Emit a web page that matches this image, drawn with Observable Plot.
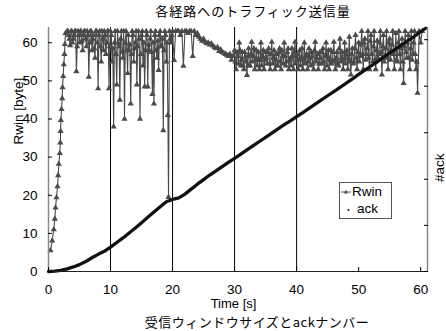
<!DOCTYPE html>
<html><head><meta charset="utf-8">
<script src="https://cdn.jsdelivr.net/npm/d3@7"></script>
<script src="https://cdn.jsdelivr.net/npm/@observablehq/plot@0.6"></script>
<style>
body{margin:0;background:#fff;}
#wrap{position:relative;width:446px;height:331px;overflow:hidden;font-family:"Liberation Sans",Arial,sans-serif;color:#000;}
#title{height:22px;line-height:22px;padding-left:60px;text-align:center;font-family:"Noto Sans CJK JP",sans-serif;font-size:13px;letter-spacing:1px;}
#caption{height:17px;line-height:16px;padding-left:68px;text-align:center;font-family:"Noto Sans CJK JP",sans-serif;font-size:13px;letter-spacing:0.5px;}
#legend{position:absolute;left:339px;top:182px;width:51px;height:35px;border:1px solid #555;background:#fff;font-size:13.5px;}
#legend .row{position:absolute;left:0;height:16px;line-height:16px;}
#legend svg{position:absolute;left:0;top:0;}
#plot svg{display:block;}
</style></head>
<body>
<div id="wrap">
  <div id="title">各経路へのトラフィック送信量</div>
  <div id="plot"></div>
  <div id="caption">受信ウィンドウサイズとackナンバー</div>
  <div id="legend">
    <div class="row" style="top:1px;width:51px;">
      <svg width="14" height="16"><line x1="1" y1="8" x2="11" y2="8" stroke="#555" stroke-width="1"/><path d="M6,5.5L8.2,9.5L3.8,9.5Z" fill="#555"/></svg>
      <span style="position:absolute;left:12px;">Rwin</span>
    </div>
    <div class="row" style="top:18px;width:51px;">
      <svg width="14" height="16"><circle cx="8.5" cy="9" r="1" fill="#111"/></svg>
      <span style="position:absolute;left:17px;">ack</span>
    </div>
  </div>
</div>
<script>
// Data
const rwinTime = [0.32,0.6,0.85,1.02,1.13,1.29,1.45,1.56,1.66,1.82,1.9,1.95,2.0,2.1,2.21,2.26,2.37,2.47,2.58,2.63,2.74,
  3.0,3.25,3.5,3.75,4.0,4.25,4.5,4.75,5.0,5.25,5.5,5.75,6.0,6.25,6.5,6.75,7.0,7.25,7.5,7.75,8.0,8.25,8.5,8.75,9.0,9.25,9.5,9.75,
  10.0,10.25,10.5,10.75,11.0,11.25,11.5,11.75,12.0,12.25,12.5,12.75,13.0,13.25,13.5,13.75,14.0,14.25,14.5,14.75,15.0,15.25,15.5,15.75,
  16.0,16.25,16.5,16.75,17.0,17.25,17.5,17.75,18.0,18.25,18.5,18.75,19.0,19.25,19.35,19.5,19.75,20.0,20.25,20.5,20.75,21.0,21.25,21.5,21.75,
  22.0,22.25,22.5,22.75,23.0,23.25,23.5,23.75,24.0,24.25,24.5,24.75,25.0,25.25,25.5,25.75,26.0,26.25,26.5,26.75,27.0,27.25,27.5,27.75,
  28.0,28.25,28.5,28.75,29.0,29.25,29.5,29.75,30.0,30.25,30.5,30.75,31.0,31.25,31.5,31.75,32.0,32.25,32.5,32.75,33.0,33.25,33.5,33.75,
  34.0,34.25,34.5,34.75,35.0,35.25,35.5,35.75,36.0,36.25,36.5,36.75,37.0,37.25,37.5,37.75,38.0,38.25,38.5,38.75,39.0,39.25,39.5,39.75,
  40.0,40.25,40.5,40.75,41.0,41.25,41.5,41.75,42.0,42.25,42.5,42.75,43.0,43.25,43.5,43.75,44.0,44.25,44.5,44.75,45.0,45.25,45.5,45.75,
  46.0,46.25,46.5,46.75,47.0,47.25,47.5,47.75,48.0,48.25,48.5,48.75,49.0,49.25,49.5,49.75,50.0,50.25,50.5,50.75,51.0,51.25,51.5,51.75,
  52.0,52.25,52.5,52.75,53.0,53.25,53.5,53.75,54.0,54.25,54.5,54.75,55.0,55.25,55.5,55.75,56.0,56.25,56.5,56.75,57.0,57.25,57.5,57.75,
  58.0,58.25,58.5,58.75,59.0,59.25,59.5,59.75,60.0,60.25];
const rwinValue = [5.5,8.1,11,13.8,16.7,19.4,22.3,25.2,28.2,31,33.8,36.8,39.7,42.6,45.4,48.3,51.2,54.3,57,59.6,62.5,
  63,62,59.3,63,61,63,52.5,63,60,63,58,63,61,63,51,63,58,62,56,63,48,63,55,61,63,57,63,48,
  63,55,38,63,49,60,45,63,56,40,63,52,58,44,63,55,60,49,63,40,62,54,48.5,63,
  48.5,58,63,46.5,44,63,56,52.8,63,59,37,63,55,41,19.5,63,60,63,55.4,63,63,63,62,63,53.9,
  63,63,62.5,63,63,56.5,63,62,62.5,61.5,61,60.5,61,60.2,59.8,60,59.5,59.8,59.2,58.8,58.5,58.8,57.8,58.2,
  57.5,57.3,57,56.8,56.5,57,55.5,56.5,58,53,56.5,60,54,57.5,53,56.3,51.5,58.5,54,60.2,56.5,53,58,55.5,
  53,60,56.5,53,57.5,54.5,58.5,53,60.2,56,53,57,54,58.5,53,56.5,60,54,57.5,53,56,58.5,53,60.2,
  55.5,53,58,56,53,60,56.5,53,58.5,54,56.5,53,60.2,56,53,57.5,54.5,58.5,53,60,56.5,53,58,55,
  60.2,53,57.5,54,61,56,53,60,57,53,61.5,51.6,58.5,55,62,53,60,56.5,63,53,61,57,63,53,
  62,55,63,53,60.5,57,63,51.6,62,56,63,53,61,58,63,53,62.5,55,63,53,61,49.4,63,56,
  62,53,63,57,63,53,46.8,63,60,63];
// Intermediate Rwin samples (time, value) that fill the dense bands
const rwinExtra = [
  [3.125,63],[3.375,61],[3.625,63],[3.875,60],[4.125,62],[4.375,63],[4.625,59],[4.875,62],[5.125,63],[5.375,60.5],
  [5.625,62],[5.875,63],[6.125,59],[6.375,62],[6.625,60],[6.875,63],[7.125,61],[7.375,58.5],[7.625,63],[7.875,60],
  [8.125,62],[8.375,59],[8.625,63],[8.875,58],[9.125,62],[9.375,60],[9.625,63],[9.875,59],[10.125,62],[10.375,58.5],
  [10.625,60],[10.875,57],[11.125,63],[11.375,59],[11.625,61],[11.875,57.5],[12.125,63],[12.375,60],[12.625,58],[12.875,62],
  [13.125,59.5],[13.375,57],[13.625,62],[13.875,58.5],[14.125,63],[14.375,59],[14.625,61],[14.875,57],[15.125,63],[15.375,60],
  [15.625,58],[15.875,62],[16.125,59.5],[16.375,61],[16.625,57.5],[16.875,60],[17.125,62],[17.375,58],[17.625,60.5],[17.875,62],
  [18.125,59],[18.375,61],[18.625,58],[18.875,62],[19.125,60],[19.625,61],[19.875,62],
  [30.125,55],[30.375,57.5],[30.625,54.5],[30.875,58],[31.125,55.5],[31.375,54],[31.625,57.5],[31.875,55],[32.125,56.5],[32.375,54],
  [32.625,57],[32.875,55],[33.125,58.5],[33.375,55.5],[33.625,54],[33.875,57.5],[34.125,55.5],[34.375,54],[34.625,58],[34.875,55.5],
  [35.125,56],[35.375,57.5],[35.625,54.5],[35.875,57],[36.125,54.5],[36.375,58],[36.625,55.5],[36.875,54],[37.125,57.5],[37.375,55],
  [37.625,58],[37.875,54.5],[38.125,56.5],[38.375,55],[38.625,58.5],[38.875,55.5],[39.125,54],[39.375,56.5],[39.625,57.5],[39.875,54.5],
  [40.125,57],[40.375,55.5],[40.625,54],[40.875,58.5],[41.125,55.5],[41.375,54.5],[41.625,57],[41.875,55],[42.125,56],[42.375,57.5],
  [42.625,54.5],[42.875,58],[43.125,55],[43.375,57],[43.625,54.5],[43.875,56],[44.125,57.5],[44.375,55],[44.625,56.5],[44.875,54],
  [45.125,58],[45.375,55.5],[45.625,54.5],[45.875,57.5],[46.125,55.5],[46.375,56],[46.625,54.5],[46.875,58.5],[47.125,55],[47.375,57.5],
  [47.625,55.5],[47.875,54.5],[48.125,58],[48.375,56],[48.625,55],[48.875,57],[49.125,54.5],[49.375,58.5],[49.625,56],[49.875,57.5],
  [50.125,55],[50.375,59.5],[50.625,57],[50.875,60],[51.125,55.5],[51.375,58.5],[51.625,56],[51.875,60.5],[52.125,57],[52.375,59],
  [52.625,55.5],[52.875,58],[53.125,56],[53.375,60],[53.625,57.5],[53.875,59],[54.125,55],[54.375,58.5],[54.625,56.5],[54.875,60],
  [55.125,55.5],[55.375,59.5],[55.625,57],[55.875,58],[56.125,55.5],[56.375,60],[56.625,57],[56.875,58.5],[57.125,55],[57.375,59],
  [57.625,57.5],[57.875,60],[58.125,56],[58.375,58.5],[58.625,55.5],[58.875,60],[59.125,57],[59.375,55]
];
const ackTime = [0,1,2,3,4,5,6,7,8,9,10,11,12,13,14,15,16,17,18,19,20,21,22,23,24,25,26,27,28,29,30,
  31,32,33,34,35,36,37,38,39,40,41,42,43,44,45,46,47,48,49,50,51,52,53,54,55,56,57,58,59,60,60.8];
const ackValue = [0,0.1,0.3,0.7,1.2,1.8,2.6,3.6,4.5,5.3,6.4,7.6,8.8,10.1,11.4,12.8,14.2,15.6,17.0,18.3,18.9,
  19.3,20.3,21.6,22.9,24.1,25.3,26.4,27.5,28.6,29.7,30.8,31.9,33.0,34.1,35.2,36.3,37.4,38.5,39.5,40.6,
  41.7,42.8,43.9,45.0,46.1,47.2,48.3,49.4,50.5,51.7,52.8,53.9,55.0,56.2,57.3,58.4,59.5,60.6,61.7,62.9,63.8];
const xTicks = [0,10,20,30,40,50,60];
const yTicks = [0,10,20,30,40,50,60];
const ackTicks = [0,12.1,24.2,36.4,48.6,60.8];
const markerLines = [10,20,30,40];
const xDomain = [0,61.1];
const yDomain = [0,64];

const rwin = rwinTime.map((t,i)=>({t, v: rwinValue[i]}))
  .concat(rwinExtra.map(([t,v])=>({t, v})))
  .sort((a,b)=>a.t-b.t);
const ack = ackTime.map((t,i)=>({t, v: ackValue[i]}));

const chart = Plot.plot({
  width: 446, height: 292,
  marginTop: 5, marginBottom: 43, marginLeft: 48, marginRight: 19,
  style: {fontFamily: '"Liberation Sans", Arial, sans-serif', fontSize: "13.5px", background: "#fff", color: "#000"},
  x: {domain: xDomain},
  y: {domain: yDomain},
  marks: [
    Plot.ruleX(markerLines, {stroke: "#000", strokeWidth: 1}),
    Plot.line(rwin, {x: "t", y: "v", stroke: "#4a4a4a", strokeWidth: 1.1}),
    Plot.dot(rwin, {x: "t", y: "v", symbol: "triangle", r: 2.3, fill: "#4a4a4a", stroke: "none"}),
    Plot.line(ack, {x: "t", y: "v", stroke: "#111", strokeWidth: 3.3}),
    Plot.ruleX([xDomain[0]], {stroke: "#888", strokeWidth: 1.5}),
    Plot.ruleX([xDomain[1]], {stroke: "#888", strokeWidth: 1.5}),
    Plot.ruleY([yDomain[0]], {stroke: "#222", strokeWidth: 1.2}),
    Plot.axisX(xTicks, {tickSize: 4, dy: -4, tickPadding: 13, label: null}),
    Plot.axisY(yTicks, {tickSize: 4, dx: 4, tickPadding: 11, label: null}),
    Plot.axisY(ackTicks, {anchor: "right", tickSize: 4, dx: -4, tickFormat: () => "", label: null}),
    Plot.text(["Time [s]"], {frameAnchor: "bottom", dy: 36.5, dx: -4.5, fontSize: 13}),
    Plot.text(["Rwin [byte]"], {frameAnchor: "left", rotate: -90, dx: -30, dy: -5, fontSize: 13.5}),
    Plot.text(["#ack"], {frameAnchor: "right", rotate: -90, dx: 12, dy: 4, fontSize: 13.5})
  ]
});
document.getElementById("plot").appendChild(chart);
</script>
</body></html>
